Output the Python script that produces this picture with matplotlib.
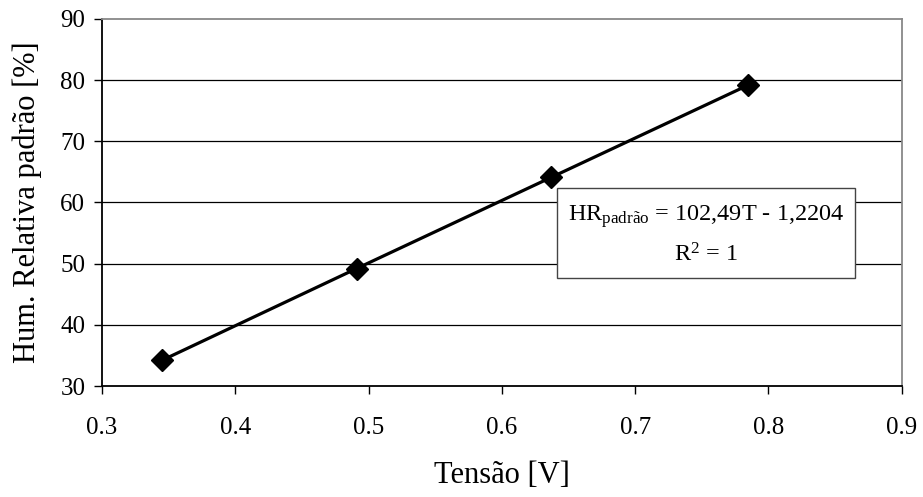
import numpy as np
import matplotlib
matplotlib.use('Agg')
import matplotlib.pyplot as plt

plt.rcParams['font.family'] = ['Liberation Serif', 'DejaVu Serif']
plt.rcParams['mathtext.fontset'] = 'custom'
plt.rcParams['mathtext.rm'] = 'Liberation Serif'
plt.rcParams['mathtext.it'] = 'Liberation Serif'

# dados
tensao = [0.345, 0.491, 0.637, 0.785]
hum_rel = [34.2, 49.2, 64.1, 79.2]
xticks = [0.3, 0.4, 0.5, 0.6, 0.7, 0.8, 0.9]
yticks = [30, 40, 50, 60, 70, 80, 90]

fig = plt.figure(figsize=(9.23, 4.97), dpi=100)
ax = fig.add_axes([0.1105, 0.2233, 0.977 - 0.1105, 0.962 - 0.2233])

ax.plot(tensao, hum_rel, color='k', lw=2.3, marker='D', markersize=11,
        markerfacecolor='k', markeredgecolor='k', zorder=3)

ax.set_xlim(0.3, 0.9)
ax.set_ylim(30, 90)
ax.set_xticks(xticks)
ax.set_yticks(yticks)
ax.set_xticklabels([f'{v:.1f}' for v in xticks])
ax.set_yticklabels([str(v) for v in yticks])
ax.tick_params(axis='both', labelsize=18, direction='out', length=6, width=1, color='k')
ax.tick_params(axis='x', pad=16)
ax.tick_params(axis='y', pad=6)

for y in yticks[1:-1]:
    ax.axhline(y, color='k', lw=0.9, zorder=1)

ax.spines['left'].set_color('k')
ax.spines['bottom'].set_color('k')
ax.spines['top'].set_color('#888888')
ax.spines['right'].set_color('#888888')
for s in ax.spines.values():
    s.set_linewidth(1.3)

ax.set_xlabel('Tensão [V]', fontsize=22, labelpad=16)
ax.set_ylabel('Hum. Relativa padrão [%]', fontsize=22, labelpad=13)

ax.text(0.755, 0.411, 'HR$_{\\mathrm{padrão}}$ = 102,49T - 1,2204\nR$^2$ = 1',
        transform=ax.transAxes, ha='center', va='center', fontsize=17.5,
        linespacing=1.75, multialignment='center',
        bbox=dict(boxstyle='square,pad=0.45', facecolor='white', edgecolor='#444444', lw=1),
        zorder=4)

plt.savefig('out.png', dpi=100)
